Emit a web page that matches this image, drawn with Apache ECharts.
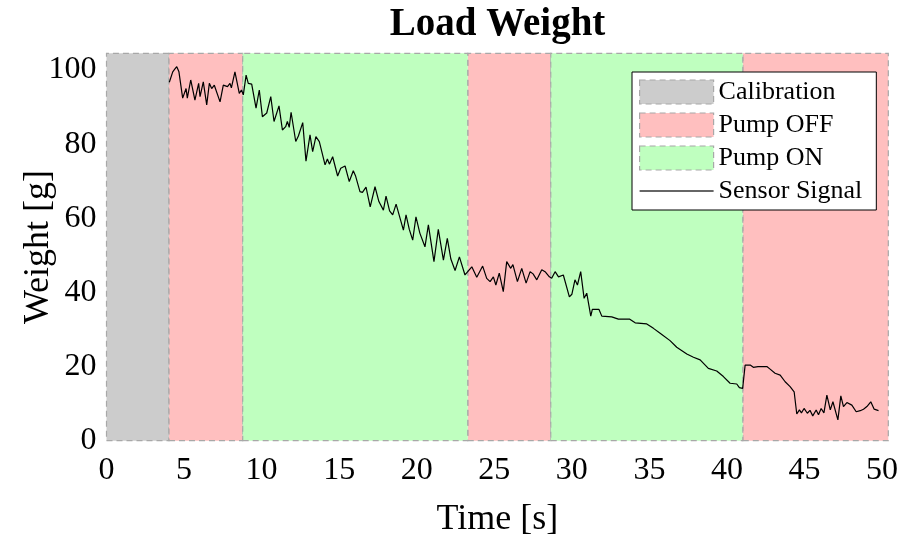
<!DOCTYPE html>
<html>
<head>
<meta charset="utf-8">
<title>Load Weight</title>
<script src="https://cdn.jsdelivr.net/npm/echarts@6/dist/echarts.min.js"></script>
<style>
  html, body { margin: 0; padding: 0; background: #fff; }
  #chart { width: 907px; height: 537px; }
</style>
</head>
<body>
<div id="chart"></div>
<script>
// ---------------------------------------------------------------------------
// Data
// ---------------------------------------------------------------------------
const timeS = [
  4.05, 4.27, 4.40, 4.53, 4.67, 4.91, 5.13, 5.21, 5.43, 5.70, 5.94, 6.03, 6.24, 6.46, 6.63, 6.78, 6.95,
  7.32, 7.53, 7.65, 7.80, 7.96, 8.05, 8.28, 8.56, 8.70, 8.82,
  9.00, 9.14, 9.36, 9.64, 9.85, 10.05, 10.33, 10.59, 10.80, 11.12, 11.34, 11.55, 11.66, 11.78, 11.90,
  12.20, 12.37, 12.65, 12.86, 12.97, 13.12, 13.29, 13.50, 13.72, 14.09, 14.24, 14.37, 14.58, 14.90,
  15.10, 15.38, 15.65, 15.91, 16.05, 16.34, 16.50, 16.73, 17.00, 17.31, 17.56, 17.85, 18.02, 18.25,
  18.45, 18.67, 19.14, 19.31, 19.52, 19.74, 19.95, 20.20, 20.53, 20.75, 21.11, 21.39, 21.72, 21.97,
  22.20, 22.47, 22.75, 23.11,
  23.22, 23.55, 23.87, 24.25, 24.51, 24.73, 24.94, 25.10, 25.32, 25.58, 25.80, 26.06, 26.20, 26.49,
  26.77, 27.05, 27.31, 27.50, 27.74, 28.06, 28.30, 28.55,
  28.70, 28.92, 29.14, 29.45, 29.84, 30.00, 30.20, 30.36, 30.57, 30.79, 30.96, 31.22, 31.32, 31.75,
  31.93, 32.57, 33.00, 33.71, 34.08, 34.83, 35.26, 35.69, 36.33, 36.76, 37.41, 37.84, 38.27, 38.80,
  39.34, 39.77, 40.20, 40.63, 40.80, 41.01,
  41.17, 41.50, 41.70, 42.00, 42.57, 42.78, 43.10, 43.43, 43.75, 44.07, 44.33, 44.50, 44.67, 44.80,
  44.97, 45.18, 45.35, 45.53, 45.75, 45.90, 46.07, 46.25, 46.44, 46.66, 46.83, 47.15, 47.34, 47.51,
  47.73, 48.05, 48.33, 48.59, 48.80, 49.02, 49.27, 49.49, 49.77
];

const weightG = [
  96.7, 99.5, 100.2, 100.9, 99.5, 92.4, 95.0, 92.4, 97.3, 91.9, 96.4, 92.8, 96.8, 90.6, 96.4, 95.0, 95.9,
  91.4, 95.9, 96.4, 95.5, 96.4, 95.2, 99.5, 93.7, 94.6, 93.3,
  98.6, 96.4, 96.2, 89.7, 94.6, 87.4, 88.4, 92.8, 86.1, 90.3, 83.8, 84.7, 86.1, 84.5, 88.6,
  80.7, 82.2, 85.8, 75.4, 75.7, 82.5, 78.0, 82.0, 80.7, 74.4, 76.0, 74.6, 76.6, 71.4,
  73.5, 74.1, 69.9, 72.8, 71.5, 67.2, 67.0, 68.4, 63.1, 68.5, 64.5, 62.2, 66.0, 62.0,
  60.9, 63.8, 56.8, 60.9, 57.0, 54.1, 60.4, 56.0, 52.3, 58.2, 48.3, 57.0, 48.7, 54.6,
  49.0, 45.9, 49.6, 44.7,
  44.7, 46.9, 44.1, 47.1, 43.8, 42.9, 44.2, 42.0, 45.2, 40.2, 48.3, 46.5, 47.5, 42.9,
  46.5, 42.5, 45.6, 45.0, 43.4, 46.1, 45.5, 44.2,
  43.8, 45.6, 44.2, 44.7, 38.8, 39.5, 43.4, 42.0, 45.6, 38.4, 39.8, 33.6, 35.4, 35.4,
  33.6, 33.4, 32.8, 32.8, 31.8, 31.5, 30.3, 29.0, 27.0, 25.2, 23.4, 22.5, 21.8, 19.5,
  18.8, 17.3, 15.5, 15.3, 14.3, 14.1,
  20.4, 20.4, 19.8, 20.0, 20.0, 19.3, 18.2, 17.7, 15.9, 14.6, 13.2, 7.2, 8.3, 7.5,
  8.7, 7.4, 8.2, 6.7, 8.3, 7.0, 8.7, 7.5, 12.3, 8.3, 10.5, 5.6, 12.1, 9.2,
  10.3, 9.6, 7.8, 8.1, 8.5, 9.2, 10.5, 8.5, 8.1
];

// phase intervals [start, end] in seconds
const calibrationSpans = [[0, 4.03]];
const pumpOffSpans     = [[4.03, 8.78], [23.29, 28.64], [41.02, 50.4]];
const pumpOnSpans      = [[8.78, 23.29], [28.64, 41.02]];

const xTicks = [0, 5, 10, 15, 20, 25, 30, 35, 40, 45, 50];
const yTicks = [0, 20, 40, 60, 80, 100];

// ---------------------------------------------------------------------------
// Chart
// ---------------------------------------------------------------------------
const FONT = "'Liberation Serif', 'DejaVu Serif', serif";
const EDGE = "#a8a8a8";

const chart = echarts.init(document.getElementById("chart"), null, { renderer: "canvas" });

function phaseSeries(name, spans, color) {
  return {
    name,
    type: "line",
    data: [],
    z: 1,
    itemStyle: { color },
    markArea: {
      silent: true,
      itemStyle: { color, borderColor: EDGE, borderWidth: 1.2, borderType: [6, 4] },
      data: spans.map(([a, b]) => [{ xAxis: a }, { xAxis: b }]),
    },
  };
}

const legendSwatch = (name, color) => ({
  name,
  icon: "rect",
  itemStyle: { color, borderColor: EDGE, borderWidth: 1.2, borderType: [6, 4] },
});

const option = {
  animation: false,
  backgroundColor: "#fff",
  title: {
    text: "Load Weight",
    left: 492.5,
    textAlign: "center",
    top: 0,
    textStyle: { fontFamily: FONT, fontWeight: "bold", fontSize: 39, color: "#000" },
  },
  legend: {
    orient: "vertical",
    left: 632,
    top: 72,
    padding: [7, 14, 6, 7],
    itemGap: 7,
    itemWidth: 74,
    itemHeight: 24,
    backgroundColor: "#fff",
    borderColor: "#000",
    borderWidth: 1,
    textStyle: { fontFamily: FONT, fontSize: 26, color: "#000" },
    data: [
      legendSwatch("Calibration", "#cccccc"),
      legendSwatch("Pump OFF", "#ffbfbf"),
      legendSwatch("Pump ON", "#bfffbf"),
      {
        name: "Sensor Signal",
        icon: "path://M0,0L74,0L74,1.4L0,1.4Z",
        itemStyle: { color: "#333", borderWidth: 0 },
      },
    ],
  },
  grid: { left: 106.5, right: 18.7, top: 53.3, bottom: 96.3, containLabel: false, outerBoundsMode: "none" },
  xAxis: {
    type: "value",
    min: 0,
    max: 50.4,
    interval: 5,
    name: "Time [s]",
    nameLocation: "middle",
    nameGap: 61,
    nameTextStyle: { fontFamily: FONT, fontSize: 36, color: "#000" },
    axisLine: { show: false },
    axisTick: { show: false },
    splitLine: { show: false },
    axisLabel: {
      fontFamily: FONT, fontSize: 32, color: "#000", margin: 14, showMaxLabel: false,
      formatter: (v) => (xTicks.includes(v) ? String(v) : ""),
    },
  },
  yAxis: {
    type: "value",
    min: 0,
    max: 104.5,
    interval: 20,
    name: "Weight [g]",
    nameLocation: "middle",
    nameGap: 50,
    nameMoveOverlap: false,
    nameTextStyle: { fontFamily: FONT, fontSize: 36, color: "#000" },
    axisLine: { show: false },
    axisTick: { show: false },
    splitLine: { show: false },
    axisLabel: {
      fontFamily: FONT, fontSize: 32, color: "#000", margin: 10, showMaxLabel: false,
      formatter: (v) => (yTicks.includes(v) ? String(v) : ""),
    },
  },
  series: [
    phaseSeries("Calibration", calibrationSpans, "#cccccc"),
    phaseSeries("Pump OFF", pumpOffSpans, "#ffbfbf"),
    phaseSeries("Pump ON", pumpOnSpans, "#bfffbf"),
    {
      name: "Sensor Signal",
      type: "line",
      z: 5,
      symbol: "none",
      data: timeS.map((t, i) => [t, weightG[i]]),
      lineStyle: { color: "#000", width: 1.2 },
      itemStyle: { color: "#000" },
    },
  ],
};

chart.setOption(option);
</script>
</body>
</html>
